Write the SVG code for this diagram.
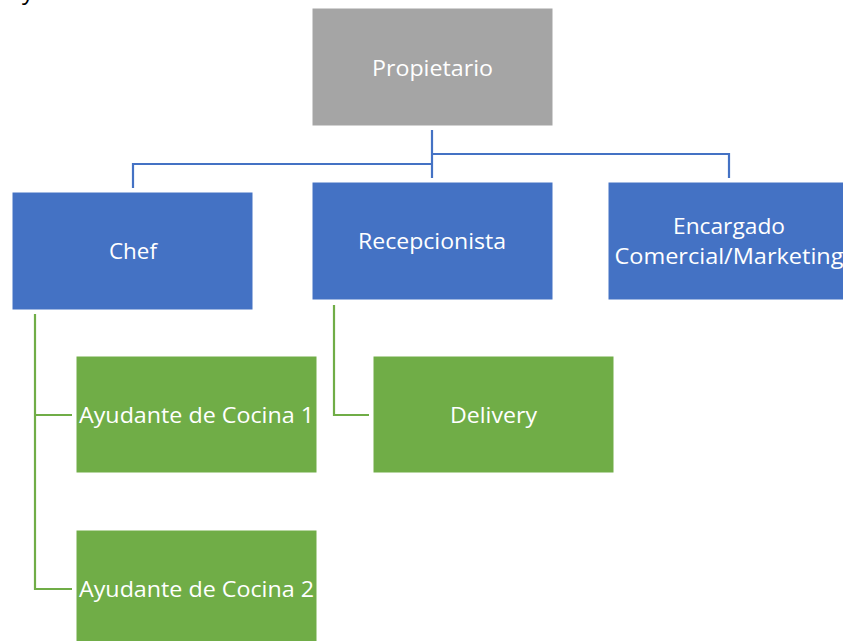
<svg xmlns="http://www.w3.org/2000/svg" width="843" height="641" viewBox="0 0 843 641">
  <style>
    .box { stroke: #ffffff; stroke-width: 1; }
    .gray { fill: #A5A5A5; }
    .blue { fill: #4472C4; }
    .green { fill: #70AD47; }
    .label { font-family: "Open Sans", "Noto Sans", sans-serif; font-size: 22.5px; fill: #ffffff; text-anchor: middle; }
    .link-blue { fill: none; stroke: #4472C4; stroke-width: 2.2; }
    .link-green { fill: none; stroke: #70AD47; stroke-width: 2.2; }
  </style>
  <rect width="843" height="641" fill="#ffffff"/>

  <!-- descender of a heading line above the chart -->
  <text x="22" y="-1" font-family="Open Sans, sans-serif" font-size="24" fill="#000000">y</text>

  <g id="connectors">
    <path class="link-blue" d="M432 130 V178"/>
    <path class="link-blue" d="M432 154 H729 V178"/>
    <path class="link-blue" d="M432 164 H133 V188"/>
    <path class="link-green" d="M35 314 V589 H72"/>
    <path class="link-green" d="M35 415 H72"/>
    <path class="link-green" d="M334 305 V415 H369"/>
  </g>

  <g id="propietario">
    <rect class="box gray" x="312" y="8" width="241" height="118"/>
    <text class="label" x="432.5" y="76" textLength="121" lengthAdjust="spacingAndGlyphs">Propietario</text>
  </g>

  <g id="chef">
    <rect class="box blue" x="12" y="192" width="241" height="118"/>
    <text class="label" x="133" y="259" textLength="48" lengthAdjust="spacingAndGlyphs">Chef</text>
  </g>

  <g id="recepcionista">
    <rect class="box blue" x="312" y="182" width="241" height="118"/>
    <text class="label" x="432" y="249" textLength="148" lengthAdjust="spacingAndGlyphs">Recepcionista</text>
  </g>

  <g id="encargado">
    <rect class="box blue" x="608" y="182" width="241" height="118"/>
    <text class="label" x="729" y="234" textLength="112" lengthAdjust="spacingAndGlyphs">Encargado</text>
    <text class="label" x="729" y="264" textLength="229" lengthAdjust="spacingAndGlyphs">Comercial/Marketing</text>
  </g>

  <g id="ayudante1">
    <rect class="box green" x="76" y="356" width="241" height="117"/>
    <text class="label" x="196.5" y="423" textLength="235" lengthAdjust="spacingAndGlyphs">Ayudante de Cocina 1</text>
  </g>

  <g id="delivery">
    <rect class="box green" x="373" y="356" width="241" height="117"/>
    <text class="label" x="493.5" y="423" textLength="87" lengthAdjust="spacingAndGlyphs">Delivery</text>
  </g>

  <g id="ayudante2">
    <rect class="box green" x="76" y="530" width="241" height="117"/>
    <text class="label" x="196.5" y="597" textLength="235" lengthAdjust="spacingAndGlyphs">Ayudante de Cocina 2</text>
  </g>
</svg>
